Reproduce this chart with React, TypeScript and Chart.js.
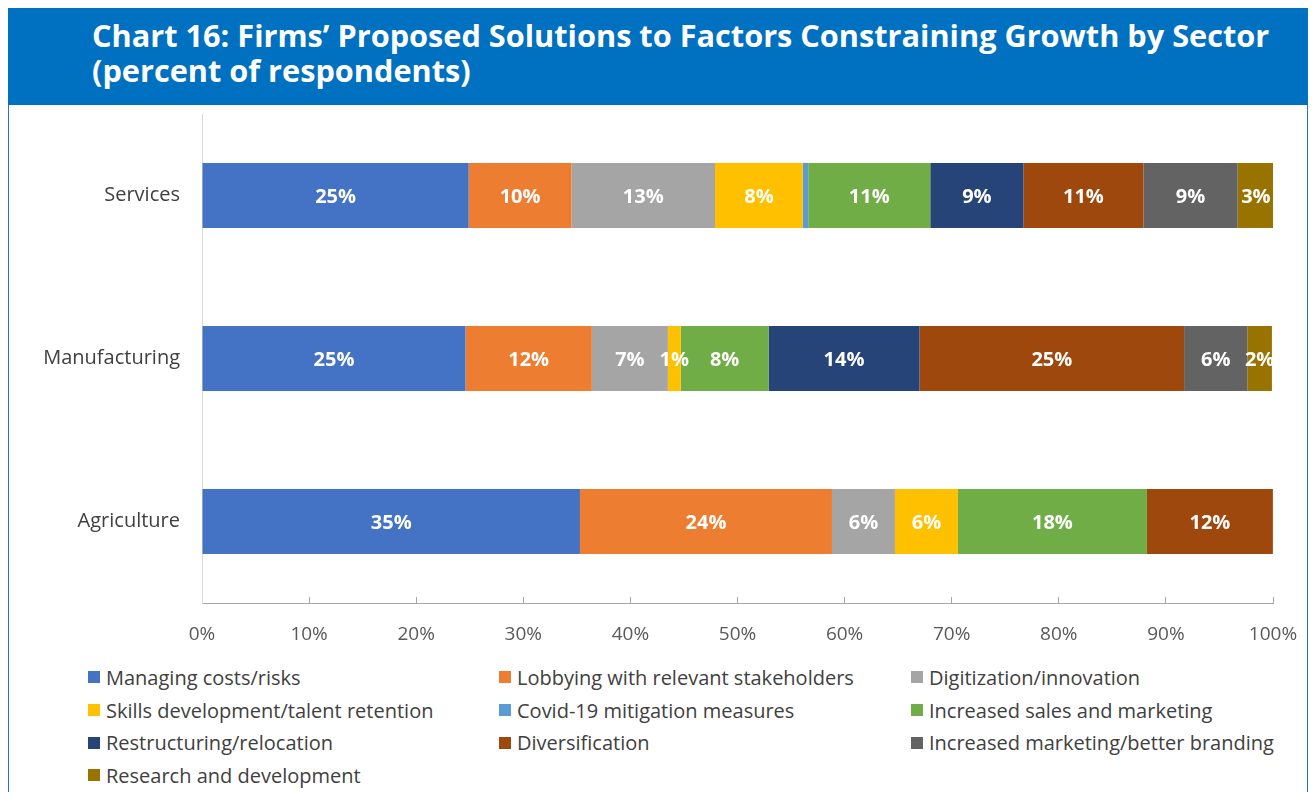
import React, { useEffect, useRef } from "react";
import { Chart, registerables } from "chart.js";

Chart.register(...registerables);

const categories = ["Services", "Manufacturing", "Agriculture"];
const seriesNames = [
  "Managing costs/risks",
  "Lobbying with relevant stakeholders",
  "Digitization/innovation",
  "Skills development/talent retention",
  "Covid-19 mitigation measures",
  "Increased sales and marketing",
  "Restructuring/relocation",
  "Diversification",
  "Increased marketing/better branding",
  "Research and development",
];
const seriesColors = [
  "#4472C4", "#ED7D31", "#A5A5A5", "#FFC000", "#5B9BD5",
  "#70AD47", "#264478", "#9E480E", "#636363", "#997300",
];
// values per series: [Services, Manufacturing, Agriculture]
const managingCosts = [24.9, 24.6, 35.29];
const lobbying = [9.6, 11.8, 23.53];
const digitization = [13.4, 7.1, 5.88];
const skills = [8.2, 1.2, 5.88];
const covid = [0.5, 0, 0];
const increasedSales = [11.4, 8.2, 17.65];
const restructuring = [8.7, 14.1, 0];
const diversification = [11.2, 24.7, 11.76];
const branding = [8.8, 5.9, 0];
const research = [3.4, 2.3, 0];
const seriesValues = [
  managingCosts, lobbying, digitization, skills, covid,
  increasedSales, restructuring, diversification, branding, research,
];
const xTicks = [0, 10, 20, 30, 40, 50, 60, 70, 80, 90, 100];

const FONT = "'Open Sans', 'Noto Sans', sans-serif";

const labelPlugin = {
  id: "barLabels",
  afterDatasetsDraw(chart: any) {
    const ctx = chart.ctx;
    ctx.save();
    ctx.font = `bold 20px ${FONT}`;
    ctx.fillStyle = "#ffffff";
    ctx.textAlign = "center";
    ctx.textBaseline = "middle";
    chart.data.datasets.forEach((ds: any, di: number) => {
      const meta = chart.getDatasetMeta(di);
      meta.data.forEach((bar: any, i: number) => {
        const v = ds.data[i];
        if (!v || v < 1) return;
        const p = bar.getProps(["x", "y", "base"], true);
        const cx = (p.x + p.base) / 2;
        ctx.fillText(`${Math.round(v)}%`, cx, p.y + 1.5);
      });
    });
    ctx.restore();
  },
};

export default function App() {
  const ref = useRef<HTMLCanvasElement>(null);
  useEffect(() => {
    if (!ref.current) return;
    const chart = new Chart(ref.current, {
      type: "bar",
      data: {
        labels: categories,
        datasets: seriesNames.map((name, i) => ({
          label: name,
          data: seriesValues[i],
          backgroundColor: seriesColors[i],
          borderWidth: 0,
          barPercentage: 0.4,
          categoryPercentage: 1,
        })),
      },
      options: {
        indexAxis: "y",
        animation: false,
        responsive: false,
        maintainAspectRatio: false,
        layout: { padding: { top: 8, right: 34, left: 0, bottom: 0 } },
        plugins: { legend: { display: false }, tooltip: { enabled: false } },
        scales: {
          x: {
            stacked: true,
            min: 0,
            max: 100,
            afterBuildTicks: (scale: any) => {
              scale.ticks = xTicks.map((v) => ({ value: v }));
            },
            afterFit: (scale: any) => {
              scale.height = 47;
              scale.paddingLeft = 0;
              scale.paddingRight = 0;
            },
            grid: {
              drawOnChartArea: false,
              drawTicks: true,
              tickLength: -6,
              color: "#A6A6A6",
            },
            border: { color: "#A6A6A6", width: 1 },
            ticks: {
              padding: 26,
              color: "#595959",
              font: { family: FONT, size: 19 },
              callback: (v: any) => `${v}%`,
            },
          },
          y: {
            stacked: true,
            afterFit: (scale: any) => {
              scale.width = 193;
            },
            grid: { display: false, drawTicks: false },
            border: { color: "#D9D9D9", width: 1 },
            ticks: {
              padding: 22,
              color: "#404040",
              font: { family: FONT, size: 20 },
            },
          },
        },
      },
      plugins: [labelPlugin],
    });
    return () => chart.destroy();
  }, []);

  return (
    <div
      style={{
        position: "relative",
        width: 1300,
        height: 784,
        boxSizing: "border-box",
        fontFamily: FONT,
        overflow: "hidden",
      }}
    >
      <div
        style={{
          height: 97,
          background: "#0070C0",
          color: "#ffffff",
          fontWeight: 700,
          fontSize: 30.7,
          lineHeight: "35px",
          paddingLeft: 84,
          paddingTop: 10,
          boxSizing: "border-box",
          whiteSpace: "nowrap",
        }}
      >
        <div>Chart 16: Firms’ Proposed Solutions to Factors Constraining Growth by Sector</div>
        <div>(percent of respondents)</div>
      </div>
      <div
        style={{
          position: "absolute",
          top: 97,
          left: 0,
          width: 1300,
          height: 687,
          boxSizing: "border-box",
          borderLeft: "1px solid #2E75B6",
          borderRight: "1px solid #2E75B6",
        }}
      >
        <canvas
          ref={ref}
          width={1298}
          height={570}
          style={{ display: "block", position: "absolute", left: 0, top: -25 }}
        />
        <div
          style={{
            position: "absolute",
            left: 79,
            top: 556,
            width: 1230,
            display: "grid",
            gridTemplateColumns: "411px 412px 407px",
            gridAutoRows: "32.7px",
            color: "#404040",
            fontSize: 20,
          }}
        >
          {seriesNames.map((name, i) => (
            <div key={name} style={{ display: "flex", alignItems: "center", whiteSpace: "nowrap" }}>
              <span
                style={{
                  display: "inline-block",
                  width: 12,
                  height: 12,
                  background: seriesColors[i],
                  marginRight: 6,
                }}
              />
              <span>{name}</span>
            </div>
          ))}
        </div>
      </div>
    </div>
  );
}
